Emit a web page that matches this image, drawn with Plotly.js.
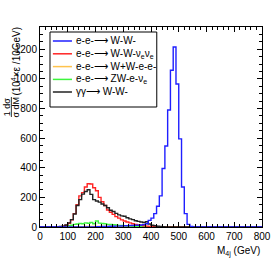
<!DOCTYPE html>
<html>
<head>
<meta charset="utf-8">
<script src="https://cdn.plot.ly/plotly-3.0.1.min.js"></script>
<style>html,body{margin:0;padding:0;background:#fff;}#chart{width:276px;height:268px;}</style>
</head>
<body>
<div id="chart"></div>
<script>
// Histogram bins: lower edge of first bin and width (GeV)
var binStart = 0;
var binWidth = 10;
var nBins = 80; // 0 .. 800 GeV

var seriesNames = [
  "e-e-\u27f6 W-W-",
  "e-e-\u27f6 W-W-\u03bd<sub>e</sub>\u03bd<sub>e</sub>",
  "e-e-\u27f6 W+W-e-e-",
  "e-e-\u27f6 ZW-e-\u03bd<sub>e</sub>",
  "\u03b3\u03b3\u27f6 W-W-"
];
// Values per 10 GeV bin, starting at 0 GeV (missing tail = 0)
var blueWW = [0,0,0,0,0,0,0,0,0,0, 0,0,0,0,0,0,0,0,0,0,
  2,2,3,3,4,5,5,6,6,7, 8,8,10,10,12,12,14,16,22,45,
  60,90,140,210,395,547,790,1058,1215,965, 595,270,90,18,3,0,0,0,0,0];
var redWWnn = [0,0,0,0,0,0,0,2,5,12, 25,48,90,150,210,232,270,292,290,265,
  245,200,170,145,115,100,85,70,60,48, 40,34,28,22,17,14,11,8,6,4,
  3,2,1,0,0,0,0,0,0,0];
var orangeWWee = [0,0,0,0,0,0,0,0,0,0, 1,1,2,2,2,2,3,3,3,3,
  3,3,3,3,3,3,3,3,3,3, 3,3,3,3,3,3,2,2,2,2,
  2,2,2,2,2,2,2,2,1,1, 1,1,1,0,0,0,0,0,0,0];
var greenZW = [0,0,0,0,0,0,0,0,0,2, 8,12,18,20,24,22,28,25,30,22,
  40,26,24,22,18,17,15,13,11,10, 8,7,6,5,5,4,3,3,2,2,
  1,0,0,0,0,0,0,0,0,0];
var blackGG = [0,0,0,0,0,0,1,3,6,13, 28,50,88,145,185,222,240,251,220,185,
  175,168,155,145,130,113,105,92,82,75, 73,62,55,50,42,38,34,30,35,20,
  12,8,5,3,2,1,0,0,0,0];

var colors = ["#1f1fff", "#ff2424", "#ffc34d", "#3df53d", "#222222"];
var allSeries = [blueWW, redWWnn, orangeWWee, greenZW, blackGG];

function stepXY(vals) {
  var xs = [], ys = [];
  for (var i = 0; i < nBins; i++) {
    xs.push(binStart + i * binWidth);
    ys.push(i < vals.length ? vals[i] : 0);
  }
  xs.push(binStart + nBins * binWidth);
  ys.push(ys[ys.length - 1]);
  return {x: xs, y: ys};
}

var traces = allSeries.map(function (vals, k) {
  var s = stepXY(vals);
  return {
    x: s.x, y: s.y, type: "scatter", mode: "lines",
    line: {shape: "hv", color: colors[k], width: 1.4},
    name: seriesNames[k], hoverinfo: "skip", showlegend: false
  };
});
var order = [2, 3, 1, 4, 0];
var drawn = order.map(function (k) { return traces[k]; });

var fnt = "Liberation Sans, Arial, Helvetica, sans-serif";

// Compact legend (box, line samples, labels) in paper coordinates
var legBox = {x0: 0.045, x1: 0.526, y0: 0.6, y1: 0.975};
var legRows = [0.93, 0.866, 0.802, 0.738, 0.675];
var shapes = [
  {type: "rect", xref: "paper", yref: "paper", x0: legBox.x0, x1: legBox.x1, y0: legBox.y0, y1: legBox.y1,
   line: {color: "#000", width: 1}, fillcolor: "#fff", layer: "above"}
];
var annotations = [];
seriesNames.forEach(function (nm, k) {
  shapes.push({type: "line", xref: "paper", yref: "paper", x0: 0.058, x1: 0.144,
    y0: legRows[k], y1: legRows[k], line: {color: colors[k], width: 1.5}, layer: "above"});
  annotations.push({text: nm, xref: "paper", yref: "paper", x: 0.155, y: legRows[k],
    xanchor: "left", yanchor: "middle", showarrow: false, font: {family: fnt, size: 10, color: "#000"}});
});

// axis title pieces
annotations.push({text: "M<sub>4j</sub> (GeV)", xref: "paper", yref: "paper", x: 1.0, y: -0.12,
  xanchor: "right", yanchor: "middle", showarrow: false, font: {family: fnt, size: 10}});
annotations.push({text: "1 d\u03c3", xref: "paper", yref: "paper", x: -0.148, y: 0.6,
  xanchor: "center", yanchor: "middle", textangle: -90, showarrow: false, font: {family: fnt, size: 9}});
annotations.push({text: "\u03c3 dM", xref: "paper", yref: "paper", x: -0.11, y: 0.6,
  xanchor: "center", yanchor: "middle", textangle: -90, showarrow: false, font: {family: fnt, size: 9}});
annotations.push({text: "(10<sup>4</sup>\u00d7\u03b5 /10GeV)", xref: "paper", yref: "paper", x: -0.11, y: 0.83,
  xanchor: "center", yanchor: "middle", textangle: -90, showarrow: false, font: {family: fnt, size: 10}});
shapes.push({type: "line", xref: "paper", yref: "paper", x0: -0.129, x1: -0.129, y0: 0.55, y1: 0.65,
  line: {color: "#000", width: 0.8}});

var layout = {
  width: 276, height: 268,
  margin: {l: 40, r: 14, t: 27, b: 41},
  paper_bgcolor: "#fff", plot_bgcolor: "#fff",
  font: {family: fnt, size: 10, color: "#000"},
  showlegend: false,
  xaxis: {
    range: [0, 800], tickmode: "linear", tick0: 0, dtick: 100,
    ticks: "inside", ticklen: 5, tickcolor: "#000", tickwidth: 1,
    minor: {dtick: 20, ticks: "inside", ticklen: 3, tickcolor: "#000"},
    showline: true, linecolor: "#000", linewidth: 1, mirror: "allticks",
    showgrid: false, zeroline: false,
    tickfont: {family: fnt, size: 10, color: "#000"}
  },
  yaxis: {
    range: [0, 1350], tickmode: "linear", tick0: 0, dtick: 200,
    ticks: "inside", ticklen: 5, tickcolor: "#000", tickwidth: 1,
    minor: {dtick: 50, ticks: "inside", ticklen: 3, tickcolor: "#000"},
    showline: true, linecolor: "#000", linewidth: 1, mirror: "allticks",
    showgrid: false, zeroline: false,
    tickfont: {family: fnt, size: 10, color: "#000"}
  },
  annotations: annotations,
  shapes: shapes
};

Plotly.newPlot("chart", drawn, layout, {staticPlot: true, displayModeBar: false});
</script>
</body>
</html>
